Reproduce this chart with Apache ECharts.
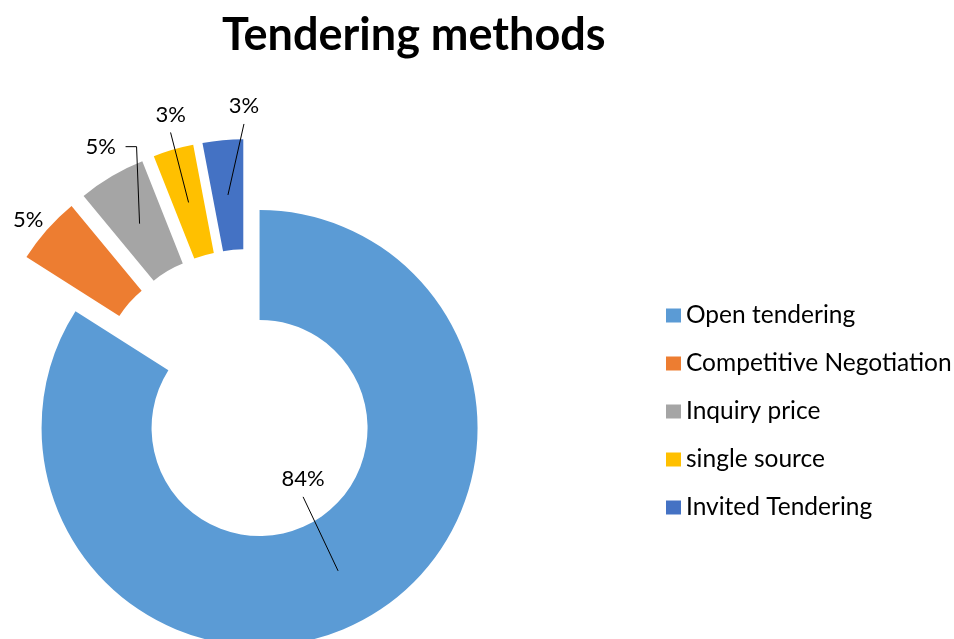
<!DOCTYPE html>
<html>
<head>
<meta charset="utf-8">
<script src="https://cdn.jsdelivr.net/npm/echarts@6/dist/echarts.min.js"></script>
<style>
  html, body { margin: 0; padding: 0; background: #fff; }
  #chart { width: 954px; height: 639px; }
</style>
</head>
<body>
<div id="chart"></div>
<script>
const categories = ['Open tendering', 'Competitive Negotiation', 'Inquiry price', 'single source', 'Invited Tendering']
const shares = [84, 5, 5, 3, 3]
const colors = ['#5B9BD5', '#ED7D31', '#A5A5A5', '#FFC000', '#4472C4']

// ring geometry (px)
const cx = 248, cy = 407, r0 = 108, r1 = 218
const bigOffset = 24, smallOffset = 50
// label position relative to the middle of its slice
const labelShift = [[-35, -92], [-60, -46], [-39, -77], [-18, -88], [16, -89]]

const total = shares.reduce((a, b) => a + b, 0)
const clear = 'rgba(0,0,0,0)'

function midAngle (i) {
  let before = 0
  for (let k = 0; k < i; k++) before += shares[k]
  return (before + shares[i] / 2) / total * Math.PI * 2
}

function offsetOf (i) {
  return i === 0 ? bigOffset : smallOffset
}

// middle of the (exploded) slice, where the leader line points
function anchor (i) {
  const a = midAngle(i)
  const d = (r0 + r1) / 2 + offsetOf(i)
  return [cx + d * Math.sin(a), cy - d * Math.cos(a)]
}

function placeLabel (params) {
  const i = params.dataIndex
  const a = anchor(i)
  const lx = a[0] + labelShift[i][0]
  const ly = a[1] + labelShift[i][1]
  let pts
  if (i === 2) {
    pts = [a, [a[0] - 3, ly], [lx + 25, ly]]
  } else {
    pts = [a, [lx, ly + 18]]
  }
  const r = params.labelRect
  return {
    dx: lx - (r.x + r.width / 2),
    dy: ly - (r.y + r.height / 2),
    labelLinePoints: pts
  }
}

const base = {
  type: 'pie',
  center: [cx, cy],
  radius: [r0, r1],
  startAngle: 90,
  clockwise: true,
  avoidLabelOverlap: false,
  emphasis: { disabled: true },
  itemStyle: { borderWidth: 0 }
}

// coloured ring: the big slice and the small ones are pulled out by different amounts
function ring (offset, keep) {
  return Object.assign({}, base, {
    selectedMode: 'multiple',
    selectedOffset: offset,
    label: { show: false },
    labelLine: { show: false },
    data: categories.map((name, i) => ({
      name: name,
      value: shares[i],
      selected: keep(i),
      itemStyle: { color: keep(i) ? colors[i] : clear }
    }))
  })
}

// invisible ring on top that only carries the percentage labels
const labelRing = Object.assign({}, base, {
  z: 5,
  silent: true,
  label: {
    show: true,
    position: 'outside',
    formatter: '{c}%',
    color: '#000',
    fontFamily: 'Lato',
    fontSize: 22
  },
  labelLine: { show: true, lineStyle: { color: '#000', width: 1 } },
  labelLayout: placeLabel,
  data: categories.map((name, i) => ({
    name: name,
    value: shares[i],
    itemStyle: { color: clear },
    labelLine: { show: i !== 1 }
  }))
})

const chart = echarts.init(document.getElementById('chart'))
chart.setOption({
  animation: false,
  backgroundColor: '#fff',
  title: {
    text: 'Tendering methods',
    left: 222,
    top: 13,
    padding: 0,
    textStyle: { fontFamily: 'Lato', fontWeight: 'bold', fontSize: 45, color: '#000' }
  },
  legend: {
    orient: 'vertical',
    left: 661,
    top: 298,
    icon: 'rect',
    itemWidth: 15,
    itemHeight: 14,
    itemGap: 23,
    selectedMode: false,
    textStyle: { fontFamily: 'Lato', fontSize: 24.5, color: '#000', lineHeight: 24 },
    data: categories.map((name, i) => ({ name: name, itemStyle: { color: colors[i] } }))
  },
  series: [
    ring(bigOffset, i => i === 0),
    ring(smallOffset, i => i !== 0),
    labelRing
  ]
})
</script>
</body>
</html>
